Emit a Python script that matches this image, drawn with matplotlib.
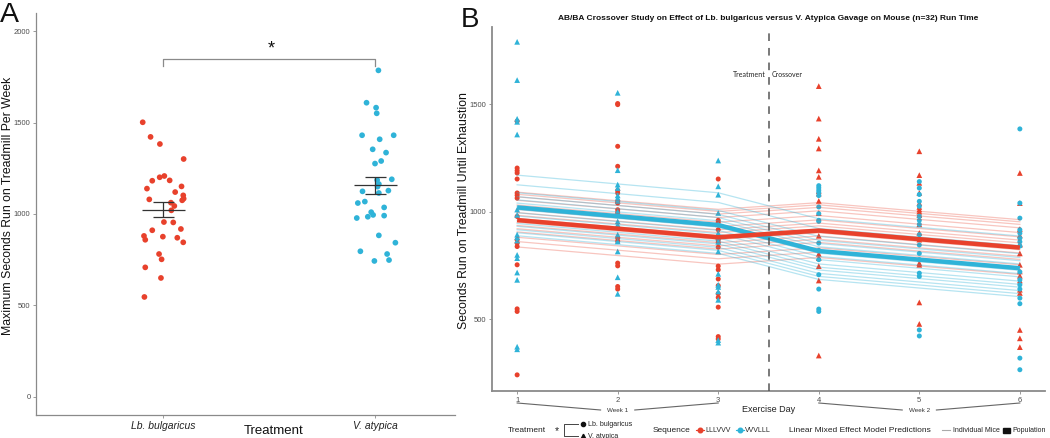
import matplotlib
matplotlib.use('Agg')
import matplotlib.pyplot as plt
import numpy as np
from matplotlib.transforms import blended_transform_factory

plt.rcParams['font.family'] = ['Liberation Sans', 'DejaVu Sans']
plt.rcParams['lines.scale_dashes'] = False

RED = '#E8412C'
BLUE = '#2FB3D8'
GREY_AX = '#8a8a8a'
TXT = '#4d4d4d'

# ---------------- Panel A data ----------------
treatments = ['Lb. bulgaricus', 'V. atypica']
lb_max = [1502, 1422, 1383, 1301, 1182, 1201, 1208, 1184, 1139, 1151, 1120, 1102,
          1080, 1084, 1075, 1062, 1044, 1020, 956, 954, 911, 918, 880, 876,
          859, 870, 845, 781, 752, 708, 650, 546]
lb_jitter = [-0.097, -0.060, -0.016, 0.096, -0.052, -0.017, 0.005, 0.030, -0.077, 0.086,
             0.056, 0.094, -0.066, 0.096, 0.089, 0.036, 0.052, 0.038, 0.003, 0.047,
             -0.052, 0.083, -0.091, -0.002, -0.085, 0.066, 0.094, -0.020, -0.008,
             -0.085, -0.011, -0.089]
va_max = [1786, 1609, 1582, 1551, 1431, 1431, 1409, 1354, 1336, 1290, 1276, 1190,
          1186, 1164, 1124, 1128, 1115, 1068, 1060, 1036, 995, 985, 978, 991,
          883, 843, 796, 781, 748, 743, 1150, 1010]
va_jitter = [0.014, -0.042, 0.003, 0.006, -0.063, 0.086, 0.020, -0.013, 0.050, 0.027,
             -0.002, 0.077, 0.008, 0.016, -0.061, 0.061, 0.016, -0.050, -0.083, 0.041,
             -0.011, -0.036, -0.088, 0.041, 0.016, 0.094, -0.071, 0.055, 0.064,
             -0.005, 0.010, -0.020]
sig_label = '*'

# ---------------- Panel B data ----------------
days = [1, 2, 3, 4, 5, 6]
sequences = ['LLLVVV', 'VVVLLL']
# observed run times per day, sequence LLLVVV (red)
red_obs = [
    [1421, 1203, 1191, 1180, 1152, 1087, 1076, 1063, 978, 869, 854, 838, 753, 548, 536, 241],
    [1503, 1498, 1304, 1211, 1099, 1087, 1048, 1040, 1009, 997, 877, 862, 761, 748, 652, 640],
    [1152, 960, 950, 916, 870, 857, 835, 747, 730, 687, 656, 619, 601, 556, 419, 408],
    [1584, 1433, 1339, 1294, 1192, 1162, 1095, 1084, 1050, 994, 888, 804, 784, 747, 680, 331],
    [1281, 1170, 1134, 1087, 1040, 1022, 1010, 1000, 984, 941, 901, 870, 761, 753, 578, 478],
    [1180, 1040, 919, 890, 850, 846, 806, 753, 722, 702, 680, 637, 622, 450, 411, 370],
]
# observed run times per day, sequence VVVLLL (blue)
blue_obs = [
    [1790, 1612, 1432, 1418, 1359, 1010, 985, 893, 882, 866, 799, 784, 717, 683, 372, 360],
    [1553, 1193, 1126, 1110, 1076, 1064, 1050, 1000, 994, 955, 940, 893, 862, 815, 695, 618],
    [1238, 1118, 1079, 994, 941, 901, 880, 860, 815, 711, 660, 650, 629, 590, 403, 391],
    [1121, 1111, 1100, 1090, 1075, 1022, 991, 960, 955, 854, 820, 777, 707, 640, 547, 536],
    [1140, 1110, 1080, 1048, 1025, 979, 960, 941, 893, 845, 806, 777, 714, 699, 450, 422],
    [1385, 1040, 970, 916, 900, 877, 860, 840, 720, 683, 660, 640, 598, 572, 319, 265],
]
red_treat = ['L', 'L', 'L', 'V', 'V', 'V']
blue_treat = ['V', 'V', 'V', 'L', 'L', 'L']
# population (fixed-effect) predictions
pop_red = [961, 921, 881, 912, 872, 833]
pop_blue = [1020, 979, 938, 817, 777, 737]
# per-mouse random intercepts
red_offsets = [130, 120, 108, 92, 70, 50, 35, 22, 8, -10, -25, -40, -55, -80, -100, -125]
blue_offsets = [150, 105, 68, 50, 35, 20, 5, -10, -25, -40, -60, -75, -88, -104, -118, -132]

W, H = 1050, 438
fig = plt.figure(figsize=(W / 100, H / 100), dpi=100)


def rect(l, t, r, b):
    return [l / W, 1 - b / H, (r - l) / W, (b - t) / H]


def style_axes(ax, lw):
    for s in ['top', 'right']:
        ax.spines[s].set_visible(False)
    for s in ['left', 'bottom']:
        ax.spines[s].set_color(GREY_AX)
        ax.spines[s].set_linewidth(lw)
    ax.tick_params(colors=GREY_AX, labelcolor=TXT, length=2.5, width=0.6, labelsize=5.5, pad=1.5)


# ---------------- Panel A ----------------
axA = fig.add_axes(rect(36, 13, 455, 415))
style_axes(axA, 0.9)
axA.set_xlim(0.4, 2.375)
axA.set_ylim(-100, 2100)
axA.set_yticks([0, 500, 1000, 1500, 2000])
axA.set_xticks([1, 2])
axA.set_xticklabels(treatments, style='italic', fontsize=7.5, color='#222222')
axA.tick_params(axis='x', pad=2)

for i, (vals, jit, col) in enumerate([(lb_max, lb_jitter, RED), (va_max, va_jitter, BLUE)]):
    xc = i + 1
    vals = np.array(vals, dtype=float)
    axA.scatter(xc + np.array(jit), vals, s=17, color=col, edgecolors='none', zorder=3)
    m = vals.mean()
    se = vals.std(ddof=1) / np.sqrt(len(vals))
    kw = dict(color='#333333', lw=0.9, zorder=4, solid_capstyle='butt')
    axA.plot([xc - 0.1, xc + 0.1], [m, m], **kw)
    axA.plot([xc, xc], [m - se, m + se], **kw)
    axA.plot([xc - 0.05, xc + 0.05], [m + se, m + se], **kw)
    axA.plot([xc - 0.05, xc + 0.05], [m - se, m - se], **kw)

axA.plot([1, 1, 2, 2], [1812, 1847, 1847, 1812], color=GREY_AX, lw=0.9)
axA.text(1.508, 1905, sig_label, ha='center', va='center', fontsize=13, color='#111111')

# ---------------- Panel B ----------------
axB = fig.add_axes(rect(492, 27, 1045, 391))
style_axes(axB, 1.3)
axB.set_xlim(0.75, 6.25)
axB.set_ylim(166, 1859)
axB.set_yticks([500, 1000, 1500])
axB.set_xticks(days)
axB.set_xticklabels([str(d) for d in days])

for obs, treat, col in [(red_obs, red_treat, RED), (blue_obs, blue_treat, BLUE)]:
    for d, vals, t in zip(days, obs, treat):
        mk = 'o' if t == 'L' else '^'
        axB.scatter([d] * len(vals), vals, marker=mk, s=13 if mk == 'o' else 17,
                    color=col, edgecolors='none', zorder=2)

for off in red_offsets:
    axB.plot(days, np.array(pop_red) + off, color=RED, alpha=0.3, lw=0.9, zorder=3)
for off in blue_offsets:
    axB.plot(days, np.array(pop_blue) + off, color=BLUE, alpha=0.35, lw=0.9, zorder=3)
axB.plot(days, pop_blue, color=BLUE, lw=3.2, zorder=4, solid_capstyle='butt')
axB.plot(days, pop_red, color=RED, lw=3.2, zorder=5, solid_capstyle='butt')

axB.axvline(3.5, color='#555555', lw=1.1, dashes=(5.5, 5), zorder=6)
axB.text(3.47, 1640, 'Treatment', ha='right', va='center', fontsize=5, color='#222222',
         family=['Lato', 'DejaVu Sans'])
axB.text(3.53, 1640, 'Crossover', ha='left', va='center', fontsize=5, color='#222222',
         family=['Lato', 'DejaVu Sans'])

tr = blended_transform_factory(axB.transData, axB.transAxes)
y_hi = -(403 - 391) / 364
y_lo = -(410 - 391) / 364
for start, lab in [(1, 'Week 1'), (4, 'Week 2')]:
    axB.plot([start, start + 0.83], [y_hi, y_lo], transform=tr, clip_on=False, color='#666666', lw=0.8)
    axB.plot([start + 1.17, start + 2], [y_lo, y_hi], transform=tr, clip_on=False, color='#666666', lw=0.8)
    axB.text(start + 1, y_lo, lab, transform=tr, ha='center', va='center', fontsize=4.5, color='#333333')

# ---------------- Overlay (labels & legend) ----------------
axO = fig.add_axes([0, 0, 1, 1], zorder=10)
axO.set_xlim(0, W)
axO.set_ylim(H, 0)
axO.axis('off')
axO.patch.set_alpha(0)

axO.text(0, 22, 'A', fontsize=20.5, ha='left', va='baseline', color='#111111')
axO.text(461, 27, 'B', fontsize=20, ha='left', va='baseline', color='#111111')
axO.text(8, 206, 'Maximum Seconds Run on Treadmill Per Week', rotation=90, ha='center',
         va='center', fontsize=8.8, color='#111111')
axO.text(274, 431, 'Treatment', ha='center', va='center', fontsize=9.5, color='#111111')
axO.text(464, 211, 'Seconds Run on Treadmill Until Exhaustion', rotation=90, ha='center',
         va='center', fontsize=8.8, color='#111111')
axO.text(768, 18, 'AB/BA Crossover Study on Effect of Lb. bulgaricus versus V. Atypica Gavage on Mouse (n=32) Run Time',
         ha='center', va='center', fontsize=6, fontweight='bold', color='#111111')
axO.text(769, 409, 'Exercise Day', ha='center', va='center', fontsize=6.5, color='#222222')

# legend row
ly = 430
axO.text(508, ly, 'Treatment', ha='left', va='center', fontsize=6, color='#222222')
axO.text(557, ly + 1, '*', ha='center', va='center', fontsize=7.5, color='#222222')
axO.plot([578, 564, 564, 578], [424, 424, 436, 436], color='#444444', lw=0.7)
axO.plot([583], [424], marker='o', ms=3, color='#111111', ls='none')
axO.plot([583], [436], marker='^', ms=3.3, color='#111111', ls='none')
axO.text(588, 424, 'Lb. bulgaricus', ha='left', va='center', fontsize=5, color='#222222')
axO.text(588, 436, 'V. atypica', ha='left', va='center', fontsize=5, color='#222222')

axO.text(653, ly, 'Sequence', ha='left', va='center', fontsize=6, color='#222222')
for x0, col, lab in [(700, RED, sequences[0]), (740, BLUE, sequences[1])]:
    axO.plot([x0 - 4, x0 + 4], [ly, ly], color=col, lw=0.8)
    axO.plot([x0], [ly], marker='o', ms=3.3, color=col, ls='none')
    axO.text(x0 + 5, ly, lab, ha='left', va='center', fontsize=5, color='#222222')

axO.text(789, ly, 'Linear Mixed Effect Model Predictions', ha='left', va='center', fontsize=6, color='#222222')
axO.plot([942, 950], [ly, ly], color='#aaaaaa', lw=0.8)
axO.text(953, ly, 'Individual Mice', ha='left', va='center', fontsize=5, color='#222222')
axO.add_patch(plt.Rectangle((1003, ly - 2.5), 7, 5, color='#111111'))
axO.text(1012, ly, 'Population', ha='left', va='center', fontsize=5, color='#222222')

fig.savefig('out.png', dpi=100)
